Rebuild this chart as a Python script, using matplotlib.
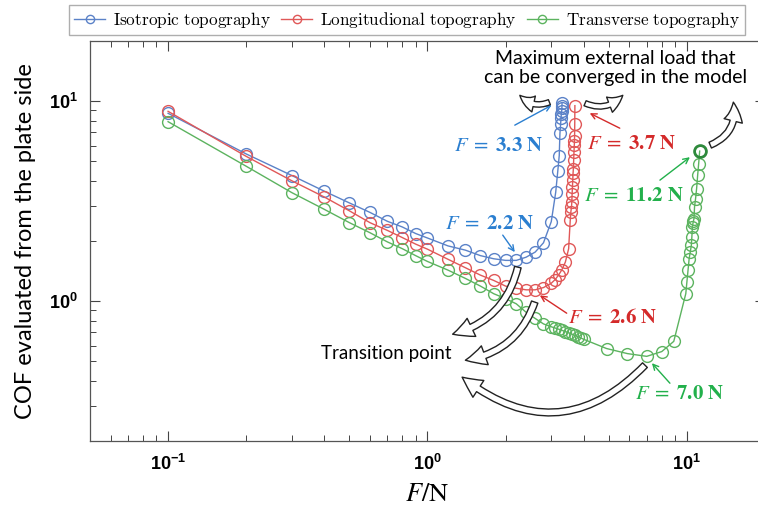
import numpy as np
import matplotlib
matplotlib.use('Agg')
import matplotlib.pyplot as plt
from matplotlib.patches import FancyArrowPatch
from matplotlib.font_manager import FontProperties
from matplotlib.ticker import LogLocator, FuncFormatter, NullFormatter

plt.rcParams['mathtext.fontset'] = 'custom'
plt.rcParams['mathtext.rm'] = 'Liberation Sans'
plt.rcParams['mathtext.bf'] = 'Liberation Sans:bold'
plt.rcParams['mathtext.it'] = 'Liberation Sans:italic'

# load F (N) and COF for the three topographies
F_iso = [0.1, 0.2, 0.3, 0.4, 0.5, 0.6, 0.7, 0.8, 0.9, 1.0,
         1.2, 1.4, 1.6, 1.8, 2.0, 2.2, 2.4, 2.6, 2.8, 3.0,
         3.12, 3.18, 3.22, 3.24, 3.26, 3.27, 3.28, 3.29, 3.295, 3.3, 3.3]
cof_iso = [8.7, 5.45, 4.25, 3.55, 3.10, 2.78, 2.51, 2.35, 2.18, 2.07,
           1.89, 1.80, 1.69, 1.63, 1.60, 1.60, 1.66, 1.76, 1.96, 2.50,
           3.50, 4.50, 5.35, 6.9, 7.7, 8.2, 8.6, 8.9, 9.2, 9.5, 9.8]

F_lon = [0.1, 0.2, 0.3, 0.4, 0.5, 0.6, 0.7, 0.8, 0.9, 1.0,
         1.2, 1.4, 1.6, 1.8, 2.0, 2.2, 2.4, 2.6, 2.8,
         3.0, 3.1, 3.2, 3.3, 3.4, 3.5,
         3.55, 3.57, 3.59, 3.6, 3.61, 3.62, 3.63, 3.64, 3.65, 3.66,
         3.67, 3.68, 3.685, 3.69, 3.695, 3.7]
cof_lon = [8.9, 5.3, 4.0, 3.32, 2.83, 2.47, 2.26, 2.08, 1.93, 1.82,
           1.62, 1.47, 1.35, 1.27, 1.19, 1.16, 1.14, 1.14, 1.17,
           1.23, 1.28, 1.35, 1.44, 1.57, 1.83,
           2.54, 2.8, 2.96, 3.13, 3.45, 3.72, 4.03, 4.36, 4.6, 5.08,
           5.57, 6.02, 6.3, 6.7, 7.7, 9.5]

F_tra = [0.1, 0.2, 0.3, 0.4, 0.5, 0.6, 0.7, 0.8, 0.9, 1.0,
         1.2, 1.4, 1.6, 1.8, 2.0, 2.2, 2.4, 2.6, 2.8,
         3.0, 3.1, 3.2, 3.3, 3.4, 3.5, 3.6, 3.7, 3.8, 3.9, 4.0,
         4.9, 5.9, 7.0, 8.0, 8.9, 9.9,
         10.0, 10.1, 10.2, 10.3, 10.4, 10.45, 10.5, 10.55, 10.6, 10.65,
         10.7, 10.8, 10.9, 11.0, 11.1, 11.2]
cof_tra = [7.9, 4.73, 3.49, 2.88, 2.47, 2.20, 1.98, 1.83, 1.69, 1.58,
           1.43, 1.30, 1.19, 1.09, 1.03, 0.97, 0.88, 0.82, 0.77,
           0.745, 0.735, 0.725, 0.715, 0.705, 0.695, 0.685, 0.675, 0.665, 0.655, 0.645,
           0.58, 0.547, 0.53, 0.56, 0.63, 1.09,
           1.25, 1.43, 1.63, 1.76, 1.90, 2.1, 2.35, 2.45, 2.52, 2.59,
           2.96, 3.26, 3.66, 4.26, 4.88, 5.63]

labels = [r'$\mathrm{Isotropic\ topography}$',
          r'$\mathrm{Longitudional\ topography}$',
          r'$\mathrm{Transverse\ topography}$']
c_blue, c_red, c_green = '#5b82c8', '#e05858', '#5cb35f'
t_blue, t_red, t_green = '#2b7fd0', '#d42a2a', '#22b04b'

fig = plt.figure(figsize=(7.58, 5.18), dpi=100)
ax = fig.add_axes([90 / 758, 1 - 441 / 518, 675 / 758, 400 / 518])

kw = dict(marker='o', mfc='none', ms=8.5, mew=1.0, lw=1.0)
ax.plot(F_iso, cof_iso, color=c_blue, label=labels[0], **kw)
ax.plot(F_lon, cof_lon, color=c_red, label=labels[1], **kw)
ax.plot(F_tra, cof_tra, color=c_green, label=labels[2], **kw)
ax.plot(F_tra[-1], cof_tra[-1], 'o', mfc='none', ms=8.5, mec='#2e8a3c', mew=2.0)

ax.set_xscale('log')
ax.set_yscale('log')
ax.set_xlim(0.05, 20)
ax.set_ylim(0.2, 20)

fmt = FuncFormatter(lambda v, p: r'$\mathbf{10^{%d}}$' % round(np.log10(v)))
for axis in (ax.xaxis, ax.yaxis):
    axis.set_major_locator(LogLocator(base=10))
    axis.set_minor_locator(LogLocator(base=10, subs=np.arange(2, 10)))
    axis.set_major_formatter(fmt)
    axis.set_minor_formatter(NullFormatter())
ax.tick_params(which='both', direction='in', top=True, right=True,
               color='#444444', labelsize=13)
ax.tick_params(which='major', length=7, width=0.8, pad=9)
ax.tick_params(which='minor', length=4, width=0.7)
for s in ax.spines.values():
    s.set_color('#555555')
    s.set_linewidth(0.9)

ax.set_ylabel('COF evaluated from the plate side', family='Lato', fontsize=17, labelpad=9)
ax.set_xlabel(r'$F/\mathrm{N}$', fontsize=19, math_fontfamily='stix', labelpad=5)

leg = ax.legend(loc='upper left', bbox_to_anchor=(69 / 758, 1 - 5 / 518),
                bbox_transform=fig.transFigure, ncol=3, frameon=True,
                fancybox=False, edgecolor='#9a9a9a', borderaxespad=0,
                prop=FontProperties(size=12.4, math_fontfamily='cm'),
                handlelength=1.8, handletextpad=0.45, columnspacing=0.6,
                borderpad=0.3, markerscale=0.7)
leg.get_frame().set_linewidth(1.0)

# texts
ax.text(5.3, 14.7, 'Maximum external load that\ncan be converged in the model',
        family='Lato', fontsize=14, ha='center', va='center', linespacing=1.15)
ax.text(0.695, 0.55, 'Transition point', family='Lato', fontsize=13.5,
        ha='center', va='center')

notes = [
    (r'$F\;=\;\mathbf{3.3\ N}$', (1.88, 6.03), (2.17, 7.59), (3.01, 9.55), t_blue),
    (r'$F\;=\;\mathbf{3.7\ N}$', (6.13, 6.17), (5.51, 7.33), (4.22, 8.71), t_red),
    (r'$F\;=\;\mathbf{11.2\ N}$', (6.24, 3.39), (7.87, 4.03), (10.27, 5.25), t_green),
    (r'$F\;=\;\mathbf{2.2\ N}$', (1.74, 2.45), (1.95, 2.14), (2.17, 1.76), t_blue),
    (r'$F\;=\;\mathbf{2.6\ N}$', (5.18, 0.832), (3.44, 0.871), (2.71, 1.07), t_red),
    (r'$F\;=\;\mathbf{7.0\ N}$', (9.4, 0.347), (8.6, 0.389), (7.33, 0.49), t_green),
]
for txt, pos, tail, head, col in notes:
    ax.text(pos[0], pos[1], txt, color=col, fontsize=15, math_fontfamily='stix',
            ha='center', va='center')
    ax.annotate('', xy=head, xytext=tail,
                arrowprops=dict(arrowstyle='->', color=col, lw=1.0,
                                shrinkA=0, shrinkB=0))

# hollow curved arrows
big = [
    ((2.23, 1.48), (1.25, 0.684), -0.3, 16),
    ((2.59, 0.99), (1.40, 0.507), -0.3, 16),
    ((6.89, 0.479), (1.36, 0.417), -0.45, 16),
    ((2.95, 9.89), (2.27, 10.7), -0.35, 13),
    ((4.05, 9.77), (5.66, 10.7), 0.35, 13),
    ((12.3, 6.03), (15.1, 9.89), 0.4, 15),
]
for tail, head, rad, ms in big:
    arr = FancyArrowPatch(tail, head, connectionstyle='arc3,rad=%s' % rad,
                          arrowstyle='simple,head_length=0.9,head_width=0.9,tail_width=0.3',
                          mutation_scale=ms, fc='white', ec='#222222', lw=1.0,
                          shrinkA=0, shrinkB=0, zorder=5)
    ax.add_patch(arr)

fig.savefig('out.png', dpi=100)
